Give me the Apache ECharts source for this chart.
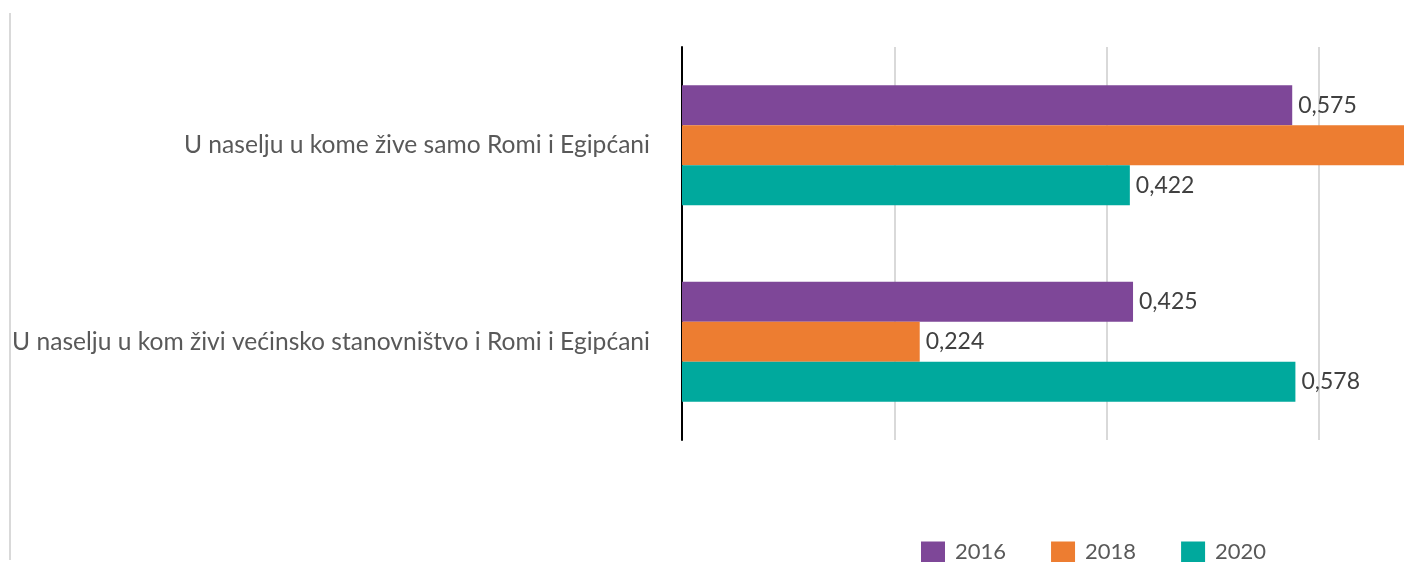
<!DOCTYPE html>
<html>
<head>
<meta charset="utf-8">
<script src="https://cdn.jsdelivr.net/npm/echarts@6/dist/echarts.min.js"></script>
<style>
  html, body { margin: 0; padding: 0; background: #fff; overflow: hidden; }
  /* grafikon je odsečen s desne strane, kao u izvorniku */
  #main { width: 1531px; height: 562px; }
</style>
</head>
<body>
<div id="main"></div>
<script>
  // kategorije (odozgo nadole)
  var categories = [
    'U naselju u kom živi većinsko stanovništvo i Romi i Egipćani',
    'U naselju u kome žive samo Romi i Egipćani'
  ];
  var years = ['2016', '2018', '2020'];
  var v2016 = [0.425, 0.575];
  var v2018 = [0.224, 0.776];
  var v2020 = [0.578, 0.422];
  var colors = ['#7E4798', '#ED7D31', '#00A99D'];

  var font = 'Lato, sans-serif';

  var myChart = echarts.init(document.getElementById('main'));

  function fmt(p) {
    return p.value.toFixed(3).replace('.', ',');
  }

  var seriesData = [v2016, v2018, v2020];
  var series = years.map(function (y, i) {
    return {
      name: y,
      type: 'bar',
      data: seriesData[i],
      barGap: '0%',
      barCategoryGap: '39%',
      itemStyle: { color: colors[i] },
      label: {
        show: true,
        position: 'right',
        distance: 6,
        formatter: fmt,
        color: '#404040',
        fontSize: 23,
        fontFamily: font
      }
    };
  });

  var option = {
    animation: false,
    color: colors,
    grid: { left: 682, top: 47, height: 393, right: 0 },
    legend: {
      data: years,
      left: 916,
      top: 536,
      itemWidth: 24,
      itemHeight: 21,
      itemGap: 45,
      icon: 'rect',
      textStyle: { color: '#595959', fontSize: 22, fontFamily: font, padding: [0, 0, 0, 5] }
    },
    xAxis: {
      type: 'value',
      min: 0,
      max: 0.8,
      interval: 0.2,
      axisLabel: { show: false },
      axisLine: { show: false },
      axisTick: { show: false },
      splitLine: { lineStyle: { color: '#d9d9d9', width: 2 } }
    },
    yAxis: {
      type: 'category',
      data: categories,
      axisLine: { show: true, lineStyle: { color: '#000', width: 2 } },
      axisTick: { show: false },
      axisLabel: { margin: 32, color: '#595959', fontSize: 24.6, fontFamily: font }
    },
    graphic: [{
      type: 'line',
      shape: { x1: 10, y1: 13, x2: 10, y2: 560 },
      style: { stroke: '#d9d9d9', lineWidth: 2 }
    }],
    series: series
  };

  myChart.setOption(option);
</script>
</body>
</html>
